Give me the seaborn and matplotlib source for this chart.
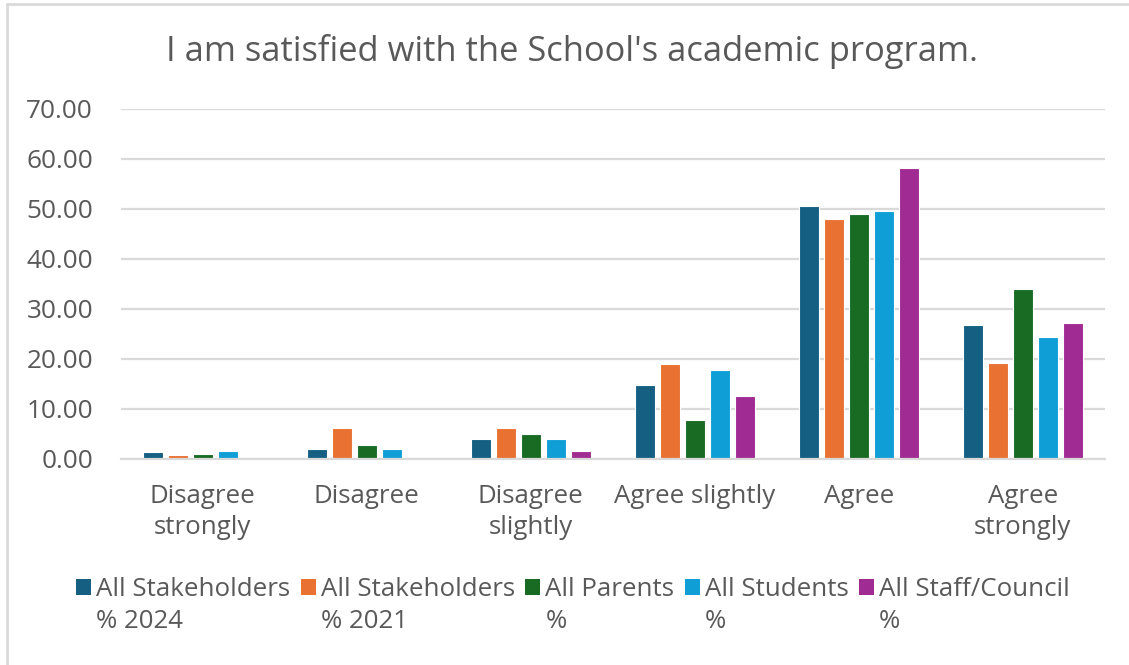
import matplotlib
matplotlib.use("Agg")
import matplotlib.pyplot as plt
from matplotlib.patches import Patch
from matplotlib.lines import Line2D
import pandas as pd
import seaborn as sns

# Response categories and series values (% of respondents)
categories = ["Disagree\nstrongly", "Disagree", "Disagree\nslightly",
              "Agree slightly", "Agree", "Agree\nstrongly"]
stakeholders_2024 = [1.47, 2.00, 4.07, 14.80, 50.53, 26.87]
stakeholders_2021 = [0.80, 6.13, 6.13, 19.07, 48.07, 19.20]
parents = [1.00, 2.87, 5.00, 7.87, 49.00, 33.93]
students = [1.67, 2.00, 4.07, 17.87, 49.53, 24.33]
staff_council = [0.00, 0.00, 1.67, 12.60, 58.20, 27.13]

series_names = ["All Stakeholders % 2024", "All Stakeholders % 2021",
                "All Parents %", "All Students %", "All Staff/Council %"]
legend_first = ["All Stakeholders", "All Stakeholders", "All Parents",
                "All Students", "All Staff/Council"]
legend_second = ["% 2024", "% 2021", "%", "%", "%"]
colors = ["#156082", "#E97132", "#196B24", "#0F9ED5", "#A02B93"]

yticks = [0, 10, 20, 30, 40, 50, 60, 70]
title = "I am satisfied with the School's academic program."

series_values = [stakeholders_2024, stakeholders_2021, parents, students, staff_council]
rows = []
for name, vals in zip(series_names, series_values):
    for cat, v in zip(categories, vals):
        rows.append({"category": cat, "series": name, "value": v})
df = pd.DataFrame(rows)

sns.set_theme(style="white")
text_color = "#595959"
grid_color = "#D9D9D9"
plt.rcParams["font.family"] = ["Open Sans", "DejaVu Sans"]

fig = plt.figure(figsize=(11.29, 6.65), dpi=100)
ax = fig.add_axes([0.107, 0.3098, 0.8716, 0.5263])

sns.barplot(data=df, x="category", y="value", hue="series",
            order=categories, hue_order=series_names,
            palette=colors, width=0.76, gap=0.2, dodge=True,
            edgecolor="white", linewidth=0.8, saturation=1,
            legend=False, ax=ax)

ax.set_xlim(-0.5, len(categories) - 0.5)
ax.set_ylim(0, 70)
ax.set_yticks(yticks)
ax.set_yticklabels([f"{t:.2f}" for t in yticks])
ax.set_xlabel("")
ax.set_ylabel("")
ax.yaxis.grid(True, color=grid_color, linewidth=1.6)
ax.set_axisbelow(True)
for side in ["left", "right", "top"]:
    ax.spines[side].set_visible(False)
ax.spines["bottom"].set_color(grid_color)
ax.spines["bottom"].set_linewidth(1.6)
ax.tick_params(axis="y", length=0, pad=20, labelsize=18.8, labelcolor=text_color)
ax.tick_params(axis="x", length=0, pad=18, labelsize=18.6, labelcolor=text_color)
for lab in ax.get_xticklabels():
    lab.set_linespacing(1.3)

fig.text(0.507, 0.908, title, ha="center", va="baseline",
         fontsize=24.8, color=text_color)

# Two-line legend: coloured square beside the first line of each entry
handles, labels = [], []
for c, l1, l2 in zip(colors, legend_first, legend_second):
    handles.append(Patch(facecolor=c, edgecolor="none"))
    labels.append(l1)
    handles.append(Patch(facecolor="none", edgecolor="none"))
    labels.append(l2)
leg = fig.legend(handles, labels, ncol=5, loc="upper left",
                 bbox_to_anchor=(0.0673, 0.132), bbox_transform=fig.transFigure,
                 frameon=False, fontsize=18.6, handlelength=0.58, handleheight=0.58,
                 handletextpad=0.2, columnspacing=0.4, labelspacing=0.27,
                 borderpad=0, borderaxespad=0)
for t in leg.get_texts():
    t.set_color(text_color)

# Chart-area border (left and top edges)
fig.add_artist(Line2D([0.0066, 0.0066], [0.0, 0.9947], transform=fig.transFigure,
                      color=grid_color, linewidth=2))
fig.add_artist(Line2D([0.0066, 1.0], [0.9947, 0.9947], transform=fig.transFigure,
                      color=grid_color, linewidth=2))

fig.savefig("out.png", dpi=100, facecolor="white")
